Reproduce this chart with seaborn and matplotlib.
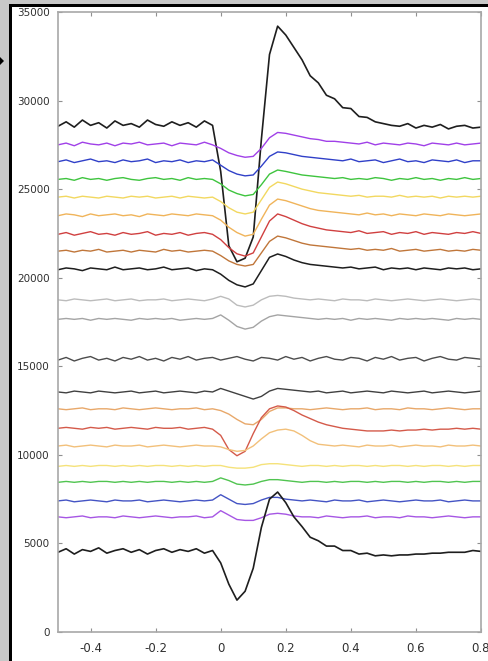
import matplotlib
matplotlib.use("Agg")
import matplotlib.pyplot as plt
from matplotlib.patches import Rectangle, Polygon
import seaborn as sns

# time axis (s)
t = [-0.5, -0.475, -0.45, -0.425, -0.4, -0.375, -0.35, -0.325, -0.3, -0.275,
     -0.25, -0.225, -0.2, -0.175, -0.15, -0.125, -0.1, -0.075, -0.05, -0.025,
     0.0, 0.025, 0.05, 0.075, 0.1, 0.125, 0.15, 0.175, 0.2, 0.225,
     0.25, 0.275, 0.3, 0.325, 0.35, 0.375, 0.4, 0.425, 0.45, 0.475,
     0.5, 0.525, 0.55, 0.575, 0.6, 0.625, 0.65, 0.675, 0.7, 0.725,
     0.75, 0.775, 0.8]

# traces, top to bottom (already stacked with offsets)
black_top = [28550, 28800, 28500, 28900, 28600, 28750, 28450, 28850, 28600, 28700,
             28500, 28900, 28650, 28550, 28800, 28600, 28750, 28500, 28850, 28600,
             26000, 21800, 20900, 21100, 22300, 27800, 32600, 34200, 33700, 33000,
             32300, 31400, 31000, 30300, 30100, 29600, 29550, 29100, 29050, 28800,
             28700, 28600, 28550, 28700, 28450, 28600, 28500, 28650, 28400, 28550,
             28600, 28450, 28500]
purple_top = [27500, 27600, 27450, 27650, 27550, 27500, 27600, 27450, 27600, 27550,
              27650, 27500, 27550, 27600, 27450, 27600, 27550, 27500, 27650, 27500,
              27300, 27050, 26900, 26800, 26850, 27300, 27900, 28200, 28150, 28050,
              27950, 27850, 27800, 27700, 27700, 27650, 27600, 27550, 27650, 27500,
              27600, 27550, 27500, 27600, 27550, 27450, 27600, 27550, 27500, 27600,
              27500, 27550, 27600]
blue_top = [26550, 26650, 26500, 26600, 26700, 26550, 26600, 26500, 26650, 26550,
            26600, 26700, 26500, 26600, 26550, 26650, 26500, 26600, 26550, 26650,
            26350, 26050, 25850, 25750, 25800, 26300, 26850, 27100, 27050, 26950,
            26850, 26800, 26750, 26700, 26650, 26600, 26700, 26550, 26600, 26650,
            26500, 26600, 26700, 26550, 26600, 26500, 26650, 26600, 26550, 26650,
            26500, 26600, 26600]
green_top = [25550, 25600, 25500, 25650, 25550, 25600, 25500, 25600, 25650, 25550,
             25500, 25600, 25650, 25550, 25600, 25500, 25650, 25550, 25600, 25550,
             25300, 24950, 24750, 24620, 24700, 25250, 25850, 26080, 26000, 25900,
             25800, 25750, 25700, 25650, 25600, 25650, 25550, 25600, 25550, 25650,
             25600, 25500, 25600, 25550, 25650, 25550, 25600, 25500, 25600, 25550,
             25650, 25550, 25600]
yellow_top = [24550, 24600, 24500, 24600, 24550, 24500, 24600, 24550, 24500, 24600,
              24550, 24600, 24500, 24550, 24600, 24500, 24600, 24550, 24500, 24550,
              24300, 23950, 23700, 23600, 23700, 24400, 25100, 25400, 25300, 25150,
              25000, 24900, 24800, 24750, 24700, 24650, 24600, 24650, 24550, 24600,
              24600, 24550, 24650, 24550, 24600, 24550, 24600, 24500, 24600, 24550,
              24600, 24550, 24600]
orange_top = [23500, 23600, 23550, 23450, 23600, 23500, 23550, 23600, 23500, 23550,
              23450, 23600, 23550, 23500, 23600, 23550, 23500, 23600, 23550, 23500,
              23250, 22850, 22550, 22350, 22450, 23300, 24100, 24440, 24350, 24200,
              24050, 23900, 23800, 23750, 23700, 23650, 23600, 23550, 23650, 23550,
              23600, 23500, 23600, 23550, 23500, 23600, 23550, 23500, 23600, 23550,
              23500, 23550, 23600]
red_top = [22450, 22550, 22400, 22500, 22600, 22450, 22500, 22400, 22550, 22450,
           22500, 22600, 22400, 22500, 22450, 22550, 22400, 22500, 22550, 22450,
           22150, 21700, 21350, 21220, 21400, 22300, 23200, 23600, 23450, 23250,
           23050, 22900, 22800, 22700, 22650, 22600, 22550, 22650, 22500, 22550,
           22600, 22450, 22550, 22500, 22600, 22450, 22550, 22500, 22450, 22550,
           22500, 22600, 22500]
brown_top = [21500, 21550, 21450, 21550, 21500, 21600, 21450, 21500, 21550, 21450,
             21550, 21500, 21450, 21600, 21500, 21550, 21450, 21500, 21550, 21500,
             21250, 20950, 20750, 20660, 20750, 21400, 22050, 22350, 22250, 22100,
             21950, 21850, 21800, 21750, 21700, 21650, 21600, 21650, 21550, 21600,
             21550, 21650, 21500, 21550, 21600, 21500, 21550, 21600, 21500, 21550,
             21500, 21600, 21550]
black_mid = [20450, 20550, 20500, 20400, 20550, 20500, 20450, 20600, 20450, 20500,
             20550, 20450, 20500, 20600, 20450, 20500, 20550, 20400, 20500, 20450,
             20200, 19850, 19600, 19480, 19650, 20400, 21150, 21340, 21200, 21000,
             20850, 20750, 20700, 20650, 20600, 20550, 20600, 20500, 20550, 20600,
             20450, 20550, 20500, 20550, 20450, 20550, 20500, 20450, 20550, 20500,
             20550, 20450, 20500]
gray_light = [18750, 18700, 18800, 18750, 18700, 18750, 18800, 18700, 18750, 18800,
              18700, 18750, 18750, 18800, 18700, 18750, 18800, 18750, 18700, 18800,
              18950, 18800, 18450, 18350, 18450, 18750, 18950, 19000, 18950, 18850,
              18800, 18750, 18800, 18750, 18700, 18800, 18750, 18750, 18700, 18800,
              18750, 18700, 18750, 18800, 18750, 18700, 18750, 18800, 18750, 18700,
              18750, 18800, 18750]
gray_mid = [17650, 17700, 17650, 17700, 17600, 17700, 17650, 17700, 17650, 17600,
            17700, 17650, 17700, 17650, 17700, 17600, 17650, 17700, 17650, 17700,
            17900, 17600, 17250, 17100, 17200, 17550, 17800, 17900, 17850, 17800,
            17750, 17700, 17650, 17700, 17650, 17700, 17600, 17700, 17650, 17700,
            17650, 17600, 17700, 17650, 17700, 17650, 17700, 17650, 17600, 17700,
            17650, 17700, 17650]
gray_dark = [15350, 15500, 15300, 15450, 15550, 15350, 15450, 15300, 15500, 15400,
             15550, 15350, 15450, 15300, 15500, 15400, 15550, 15350, 15450, 15500,
             15350, 15450, 15550, 15400, 15300, 15500, 15450, 15350, 15550, 15400,
             15500, 15300, 15450, 15550, 15400, 15350, 15500, 15450, 15300, 15500,
             15400, 15550, 15350, 15450, 15500, 15300, 15450, 15550, 15400, 15350,
             15500, 15450, 15400]
gray_dark2 = [13550, 13500, 13600, 13550, 13500, 13600, 13550, 13500, 13550, 13600,
              13500, 13550, 13600, 13500, 13550, 13600, 13550, 13500, 13600, 13550,
              13750, 13600, 13450, 13300, 13150, 13300, 13600, 13750, 13700, 13650,
              13600, 13550, 13600, 13500, 13550, 13600, 13500, 13550, 13600, 13550,
              13500, 13600, 13550, 13500, 13550, 13600, 13500, 13550, 13600, 13550,
              13500, 13550, 13600]
salmon_low = [12600, 12550, 12600, 12650, 12550, 12600, 12600, 12550, 12650, 12600,
              12550, 12600, 12650, 12600, 12550, 12600, 12600, 12650, 12550, 12600,
              12500, 12300, 12000, 11750, 11700, 12000, 12450, 12650, 12650, 12600,
              12600, 12550, 12600, 12650, 12600, 12550, 12600, 12600, 12650, 12550,
              12600, 12600, 12550, 12650, 12600, 12600, 12550, 12600, 12650, 12600,
              12550, 12600, 12600]
red_low = [11500, 11550, 11500, 11450, 11550, 11500, 11550, 11450, 11500, 11550,
           11500, 11450, 11550, 11500, 11500, 11550, 11450, 11500, 11550, 11450,
           11100, 10300, 9950, 10200, 11200, 12100, 12600, 12760, 12700, 12500,
           12250, 12050, 11850, 11700, 11600, 11500, 11450, 11400, 11350, 11350,
           11350, 11400, 11350, 11400, 11400, 11450, 11400, 11450, 11450, 11500,
           11450, 11500, 11450]
orange_low = [10500, 10550, 10450, 10500, 10550, 10500, 10450, 10550, 10500, 10500,
              10550, 10450, 10500, 10550, 10500, 10450, 10500, 10550, 10500, 10500,
              10450, 10300, 10200, 10250, 10500, 10900, 11250, 11400, 11450, 11350,
              11100, 10800, 10600, 10550, 10500, 10550, 10500, 10450, 10550, 10500,
              10500, 10550, 10450, 10500, 10550, 10500, 10500, 10450, 10550, 10500,
              10500, 10550, 10500]
yellow_low = [9350, 9400, 9350, 9400, 9350, 9400, 9400, 9350, 9400, 9350,
              9400, 9350, 9400, 9400, 9350, 9400, 9350, 9400, 9350, 9400,
              9400, 9300, 9250, 9250, 9300, 9450, 9500, 9500, 9450, 9400,
              9350, 9400, 9400, 9350, 9400, 9350, 9400, 9400, 9350, 9400,
              9350, 9400, 9400, 9350, 9400, 9350, 9400, 9400, 9350, 9400,
              9350, 9400, 9400]
green_low = [8450, 8500, 8450, 8500, 8450, 8500, 8500, 8450, 8500, 8450,
             8500, 8450, 8500, 8500, 8450, 8500, 8450, 8500, 8450, 8500,
             8700, 8550, 8350, 8300, 8350, 8500, 8600, 8600, 8550, 8500,
             8450, 8500, 8500, 8450, 8500, 8450, 8500, 8500, 8450, 8500,
             8450, 8500, 8500, 8450, 8500, 8450, 8500, 8500, 8450, 8500,
             8450, 8500, 8500]
blue_low = [7400, 7450, 7350, 7400, 7450, 7400, 7350, 7450, 7400, 7400,
            7450, 7350, 7400, 7450, 7400, 7350, 7400, 7450, 7400, 7450,
            7750, 7500, 7250, 7200, 7250, 7450, 7600, 7600, 7500, 7450,
            7400, 7450, 7400, 7350, 7450, 7400, 7400, 7450, 7350, 7400,
            7450, 7400, 7350, 7400, 7450, 7400, 7400, 7450, 7350, 7400,
            7450, 7400, 7400]
purple_low = [6500, 6450, 6500, 6550, 6450, 6500, 6500, 6450, 6550, 6500,
              6450, 6500, 6550, 6500, 6450, 6500, 6500, 6550, 6450, 6500,
              6850, 6600, 6350, 6300, 6300, 6450, 6650, 6700, 6650, 6550,
              6500, 6500, 6450, 6550, 6500, 6450, 6500, 6500, 6550, 6450,
              6500, 6500, 6450, 6550, 6500, 6500, 6450, 6500, 6550, 6500,
              6450, 6500, 6500]
black_low = [4500, 4700, 4400, 4650, 4550, 4750, 4450, 4600, 4700, 4500,
             4650, 4400, 4600, 4700, 4500, 4650, 4550, 4700, 4450, 4600,
             3900, 2700, 1800, 2300, 3600, 5900, 7500, 7900, 7300, 6500,
             5950, 5350, 5150, 4850, 4850, 4600, 4600, 4400, 4450, 4300,
             4350, 4300, 4350, 4350, 4400, 4400, 4450, 4450, 4500, 4500,
             4500, 4600, 4550]

x_ticks = [-0.4, -0.2, 0, 0.2, 0.4, 0.6, 0.8]
x_labels = ["-0.4", "-0.2", "0", "0.2", "0.4", "0.6", "0.8"]
y_ticks = [0, 5000, 10000, 15000, 20000, 25000, 30000, 35000]

traces = [
    (black_top, "#1e1e1e", 1.2),
    (purple_top, "#a040e8", 1.0),
    (blue_top, "#3040c8", 1.0),
    (green_top, "#3ec43e", 1.0),
    (yellow_top, "#f2d860", 1.0),
    (orange_top, "#f0b45a", 1.0),
    (red_top, "#d04040", 1.0),
    (brown_top, "#c0763a", 1.0),
    (black_mid, "#1e1e1e", 1.1),
    (gray_light, "#bcbcbc", 1.0),
    (gray_mid, "#a4a4a4", 1.0),
    (gray_dark, "#4c4c4c", 1.0),
    (gray_dark2, "#404040", 1.0),
    (salmon_low, "#e8a86a", 1.0),
    (red_low, "#d45a4a", 1.0),
    (orange_low, "#f2c07a", 1.0),
    (yellow_low, "#f5e27a", 1.0),
    (green_low, "#50c450", 1.0),
    (blue_low, "#4454c4", 1.0),
    (purple_low, "#a656e4", 1.0),
    (black_low, "#1e1e1e", 1.2),
]

sns.set_style("ticks")
plt.rcParams["font.family"] = ["DejaVu Sans"]

fig = plt.figure(figsize=(4.89, 6.61), dpi=100)
fig.patch.set_facecolor("white")
W, H = 489, 661
ax = fig.add_axes([58 / W, 29 / H, (481 - 58) / W, (632 - 12) / H])

for vals, col, lw in traces:
    sns.lineplot(x=t, y=vals, color=col, linewidth=lw, ax=ax,
                 estimator=None, sort=False)

ax.set_xlim(-0.5, 0.8)
ax.set_ylim(0, 35000)
ax.set_xticks(x_ticks)
ax.set_xticklabels(x_labels)
ax.set_yticks(y_ticks)
ax.set_yticklabels([str(v) for v in y_ticks])
ax.tick_params(direction="in", length=3, width=0.8, color="#909090",
               top=True, right=True, labelsize=7.5, labelcolor="#303030")
ax.tick_params(axis="x", pad=7, labelsize=8.5)
ax.tick_params(axis="y", pad=6)
for sp in ax.spines.values():
    sp.set_color("#a8a8a8")
    sp.set_linewidth(1.2)
ax.set_xlabel("")
ax.set_ylabel("")

# grey frame of the screenshot
fig.add_artist(Rectangle((0, 0), 9 / W, 1, transform=fig.transFigure,
                         facecolor="#c8c8c8", edgecolor="none"))
fig.add_artist(Rectangle((0, 1 - 4 / H), 1, 4 / H, transform=fig.transFigure,
                         facecolor="#c8c8c8", edgecolor="none"))
fig.add_artist(Rectangle((9 / W, 0), 3 / W, 1 - 4 / H, transform=fig.transFigure,
                         facecolor="black", edgecolor="none"))
fig.add_artist(Rectangle((9 / W, 1 - 7 / H), 1, 3 / H, transform=fig.transFigure,
                         facecolor="black", edgecolor="none"))
fig.add_artist(Polygon([[0, 1 - 57 / H], [4 / W, 1 - 61 / H], [0, 1 - 65 / H]],
                       closed=True, transform=fig.transFigure,
                       facecolor="black", edgecolor="none"))

plt.savefig("out.png", dpi=100)
